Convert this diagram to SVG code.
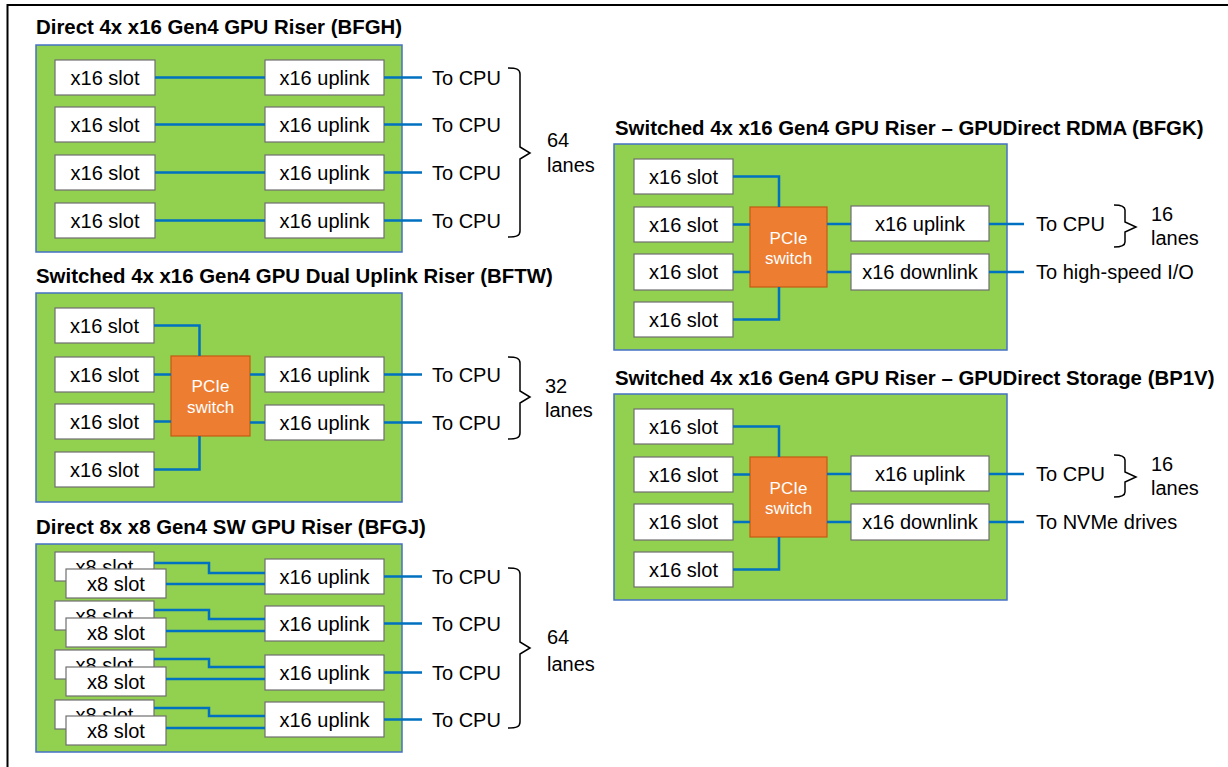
<svg xmlns="http://www.w3.org/2000/svg" width="1228" height="767" viewBox="0 0 1228 767">
<defs>
<style>
text{font-family:"Liberation Sans",Arial,sans-serif;font-size:20px;fill:#000}
.title{font-weight:bold;font-size:20.4px}
.mid{text-anchor:middle}
.panel{fill:#92D050;stroke:#4472C4;stroke-width:1.5}
.box{fill:#fff;stroke:#6f6f6f;stroke-width:1.2}
.sw{fill:#ED7D31;stroke:#C55A11;stroke-width:1.2}
.swt{fill:#fff;font-size:17px;text-anchor:middle}
.ln{fill:none;stroke:#0070C0;stroke-width:2.5}
.br{fill:none;stroke:#000;stroke-width:1.5}
</style>
<clipPath id="c1"><rect x="55" y="552" width="99" height="17"/></clipPath>
<clipPath id="c2"><rect x="55" y="601" width="99" height="17"/></clipPath>
<clipPath id="c3"><rect x="55" y="650" width="99" height="17"/></clipPath>
<clipPath id="c4"><rect x="55" y="700" width="99" height="16"/></clipPath>
</defs>
<rect width="1228" height="767" fill="#fff"/>
<path d="M7.5,767 V5 H1228" fill="none" stroke="#000" stroke-width="2"/>

<!-- BFGH -->
<g id="bfgh">
<text class="title" x="36" y="34">Direct 4x x16 Gen4 GPU Riser (BFGH)</text>
<rect class="panel" x="36" y="45" width="366" height="207"/>
<g id="bfgh-slot1"><rect class="box" x="55" y="60" width="100" height="35"/><text class="mid" x="105" y="84.5">x16 slot</text></g>
<g id="bfgh-slot2"><rect class="box" x="55" y="107" width="100" height="35"/><text class="mid" x="105" y="131.5">x16 slot</text></g>
<g id="bfgh-slot3"><rect class="box" x="55" y="155" width="100" height="35"/><text class="mid" x="105" y="179.5">x16 slot</text></g>
<g id="bfgh-slot4"><rect class="box" x="55" y="203" width="100" height="35"/><text class="mid" x="105" y="227.5">x16 slot</text></g>
<g id="bfgh-up1"><rect class="box" x="265" y="60" width="119" height="35"/><text class="mid" x="324.5" y="84.5">x16 uplink</text></g>
<g id="bfgh-up2"><rect class="box" x="265" y="107" width="119" height="35"/><text class="mid" x="324.5" y="131.5">x16 uplink</text></g>
<g id="bfgh-up3"><rect class="box" x="265" y="155" width="119" height="35"/><text class="mid" x="324.5" y="179.5">x16 uplink</text></g>
<g id="bfgh-up4"><rect class="box" x="265" y="203" width="119" height="35"/><text class="mid" x="324.5" y="227.5">x16 uplink</text></g>
<g id="bfgh-cpu"><text x="432" y="84.5">To CPU</text><text x="432" y="131.5">To CPU</text><text x="432" y="179.5">To CPU</text><text x="432" y="227.5">To CPU</text></g>
<g id="bfgh-lanes"><path class="br" d="M508,68 C516,68 520,69 520,74 L520,147 L530,153 L520,159 L520,231 C520,236 516,237 508,237"/><text x="547" y="147">64</text><text x="547" y="172">lanes</text></g>
</g>

<!-- BFTW -->
<g id="bftw">
<text class="title" x="36" y="283">Switched 4x x16 Gen4 GPU Dual Uplink Riser (BFTW)</text>
<rect class="panel" x="36" y="293" width="366" height="209"/>
<g id="bftw-slot1"><rect class="box" x="55" y="308" width="99" height="35"/><text class="mid" x="104.5" y="332.5">x16 slot</text></g>
<g id="bftw-slot2"><rect class="box" x="55" y="357" width="99" height="35"/><text class="mid" x="104.5" y="381.5">x16 slot</text></g>
<g id="bftw-slot3"><rect class="box" x="55" y="404" width="99" height="35"/><text class="mid" x="104.5" y="428.5">x16 slot</text></g>
<g id="bftw-slot4"><rect class="box" x="55" y="452" width="99" height="35"/><text class="mid" x="104.5" y="476.5">x16 slot</text></g>
<g id="bftw-switch"><rect class="sw" x="171" y="356" width="79" height="80"/><text class="swt" x="210.5" y="392">PCIe</text><text class="swt" x="210.5" y="413">switch</text></g>
<g id="bftw-up1"><rect class="box" x="265" y="357" width="119" height="35"/><text class="mid" x="324.5" y="381.5">x16 uplink</text></g>
<g id="bftw-up2"><rect class="box" x="265" y="405" width="119" height="35"/><text class="mid" x="324.5" y="429.5">x16 uplink</text></g>
<g id="bftw-cpu"><text x="432" y="381.5">To CPU</text><text x="432" y="429.5">To CPU</text></g>
<g id="bftw-lanes"><path class="br" d="M508,357 C516,357 520,358 520,363 L520,391 L530,397 L520,403 L520,433 C520,438 516,439 508,439"/><text x="545" y="393">32</text><text x="545" y="417">lanes</text></g>
</g>

<!-- BFGJ -->
<g id="bfgj">
<text class="title" x="36" y="534">Direct 8x x8 Gen4 SW GPU Riser (BFGJ)</text>
<rect class="panel" x="36" y="544" width="366" height="208"/>
<g id="bfgj-slot1a"><rect class="box" x="55" y="552" width="99" height="29"/><text class="mid" x="104.5" y="573.5" clip-path="url(#c1)">x8 slot</text></g>
<g id="bfgj-slot1b"><rect class="box" x="66" y="569" width="100" height="29"/><text class="mid" x="116" y="590.5">x8 slot</text></g>
<g id="bfgj-slot2a"><rect class="box" x="55" y="601" width="99" height="29"/><text class="mid" x="104.5" y="622.5" clip-path="url(#c2)">x8 slot</text></g>
<g id="bfgj-slot2b"><rect class="box" x="66" y="618" width="100" height="29"/><text class="mid" x="116" y="639.5">x8 slot</text></g>
<g id="bfgj-slot3a"><rect class="box" x="55" y="650" width="99" height="29"/><text class="mid" x="104.5" y="671.5" clip-path="url(#c3)">x8 slot</text></g>
<g id="bfgj-slot3b"><rect class="box" x="66" y="667" width="100" height="29"/><text class="mid" x="116" y="688.5">x8 slot</text></g>
<g id="bfgj-slot4a"><rect class="box" x="55" y="700" width="99" height="29"/><text class="mid" x="104.5" y="721.5" clip-path="url(#c4)">x8 slot</text></g>
<g id="bfgj-slot4b"><rect class="box" x="66" y="716" width="100" height="29"/><text class="mid" x="116" y="737.5">x8 slot</text></g>
<g id="bfgj-up1"><rect class="box" x="265" y="559" width="119" height="35"/><text class="mid" x="324.5" y="583.5">x16 uplink</text></g>
<g id="bfgj-up2"><rect class="box" x="265" y="606" width="119" height="35"/><text class="mid" x="324.5" y="630.5">x16 uplink</text></g>
<g id="bfgj-up3"><rect class="box" x="265" y="655" width="119" height="35"/><text class="mid" x="324.5" y="679.5">x16 uplink</text></g>
<g id="bfgj-up4"><rect class="box" x="265" y="702" width="119" height="35"/><text class="mid" x="324.5" y="726.5">x16 uplink</text></g>
<g id="bfgj-cpu"><text x="432" y="583.5">To CPU</text><text x="432" y="630.5">To CPU</text><text x="432" y="679.5">To CPU</text><text x="432" y="726.5">To CPU</text></g>
<g id="bfgj-lanes"><path class="br" d="M508,568 C516,568 520,569 520,574 L520,642 L530,648 L520,654 L520,722 C520,727 516,728 508,728"/><text x="547" y="644">64</text><text x="547" y="671">lanes</text></g>
</g>

<!-- BFGK -->
<g id="bfgk">
<text class="title" x="615" y="135">Switched 4x x16 Gen4 GPU Riser – GPUDirect RDMA (BFGK)</text>
<rect class="panel" x="614" y="144" width="393" height="206"/>
<g id="bfgk-slot1"><rect class="box" x="634" y="159" width="99" height="35"/><text class="mid" x="683.5" y="183.5">x16 slot</text></g>
<g id="bfgk-slot2"><rect class="box" x="634" y="207" width="99" height="35"/><text class="mid" x="683.5" y="231.5">x16 slot</text></g>
<g id="bfgk-slot3"><rect class="box" x="634" y="254" width="99" height="36"/><text class="mid" x="683.5" y="279">x16 slot</text></g>
<g id="bfgk-slot4"><rect class="box" x="634" y="302" width="99" height="35"/><text class="mid" x="683.5" y="326.5">x16 slot</text></g>
<g id="bfgk-switch"><rect class="sw" x="750" y="207" width="77" height="80"/><text class="swt" x="788.5" y="244">PCIe</text><text class="swt" x="788.5" y="264">switch</text></g>
<g id="bfgk-up"><rect class="box" x="851" y="206" width="138" height="35"/><text class="mid" x="920" y="230.5">x16 uplink</text></g>
<g id="bfgk-down"><rect class="box" x="851" y="254" width="138" height="36"/><text class="mid" x="920" y="279">x16 downlink</text></g>
<g id="bfgk-cpu"><text x="1036" y="231">To CPU</text></g>
<g id="bfgk-io"><text x="1036" y="279">To high-speed I/O</text></g>
<g id="bfgk-lanes"><path class="br" d="M1114,205 C1121,205 1125,206 1125,210 L1125,222 L1136,227 L1125,232 L1125,242 C1125,246 1121,247 1114,247"/><text x="1151" y="221">16</text><text x="1151" y="245">lanes</text></g>
</g>

<!-- BP1V -->
<g id="bp1v">
<text class="title" x="615" y="385">Switched 4x x16 Gen4 GPU Riser – GPUDirect Storage (BP1V)</text>
<rect class="panel" x="614" y="394" width="393" height="206"/>
<g id="bp1v-slot1"><rect class="box" x="634" y="409" width="99" height="35"/><text class="mid" x="683.5" y="433.5">x16 slot</text></g>
<g id="bp1v-slot2"><rect class="box" x="634" y="457" width="99" height="35"/><text class="mid" x="683.5" y="481.5">x16 slot</text></g>
<g id="bp1v-slot3"><rect class="box" x="634" y="504" width="99" height="36"/><text class="mid" x="683.5" y="529">x16 slot</text></g>
<g id="bp1v-slot4"><rect class="box" x="634" y="552" width="99" height="35"/><text class="mid" x="683.5" y="576.5">x16 slot</text></g>
<g id="bp1v-switch"><rect class="sw" x="750" y="457" width="77" height="80"/><text class="swt" x="788.5" y="494">PCIe</text><text class="swt" x="788.5" y="514">switch</text></g>
<g id="bp1v-up"><rect class="box" x="851" y="456" width="138" height="35"/><text class="mid" x="920" y="480.5">x16 uplink</text></g>
<g id="bp1v-down"><rect class="box" x="851" y="504" width="138" height="36"/><text class="mid" x="920" y="529">x16 downlink</text></g>
<g id="bp1v-cpu"><text x="1036" y="481">To CPU</text></g>
<g id="bp1v-nvme"><text x="1036" y="529">To NVMe drives</text></g>
<g id="bp1v-lanes"><path class="br" d="M1114,455 C1121,455 1125,456 1125,460 L1125,472 L1136,477 L1125,482 L1125,492 C1125,496 1121,497 1114,497"/><text x="1151" y="471">16</text><text x="1151" y="495">lanes</text></g>
</g>

<!-- connectors -->
<g id="connectors">
<path class="ln" d="M155,77.5 H265 M155,124.5 H265 M155,172.5 H265 M155,220.5 H265"/>
<path class="ln" d="M384,77.5 H422 M384,124.5 H422 M384,172.5 H422 M384,220.5 H422"/>
<path class="ln" d="M154,325.5 H199.5 V356 M154,374.5 H171 M154,421.5 H171 M154,469.5 H199.5 V436"/>
<path class="ln" d="M250,374.5 H265 M250,422.5 H265 M384,374.5 H422 M384,422.5 H422"/>
<path class="ln" d="M154,563 H209 V573 H265 M166,584 H265"/>
<path class="ln" d="M154,610 H209 V619 H265 M166,631 H265"/>
<path class="ln" d="M154,659 H209 V667 H265 M166,679 H265"/>
<path class="ln" d="M154,708 H209 V716 H265 M166,728 H265"/>
<path class="ln" d="M384,576.5 H422 M384,623.5 H422 M384,672.5 H422 M384,719.5 H422"/>
<path class="ln" d="M733,176.5 H779 V207 M733,224.5 H750 M733,272 H750 M733,319.5 H779 V287"/>
<path class="ln" d="M827,224 H851 M827,272 H851 M989,224 H1024 M989,272 H1024"/>
<path class="ln" d="M733,426.5 H779 V457 M733,474.5 H750 M733,522 H750 M733,569.5 H779 V537"/>
<path class="ln" d="M827,474 H851 M827,522 H851 M989,474 H1024 M989,522 H1024"/>
</g>
</svg>
